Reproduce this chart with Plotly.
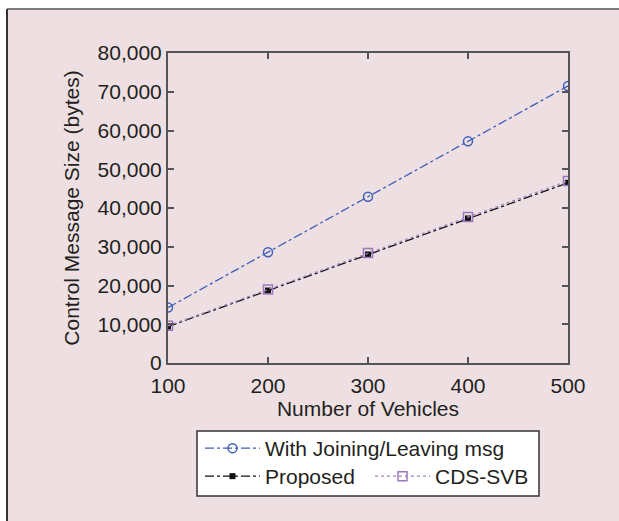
import plotly.graph_objects as go

vehicles = [100, 200, 300, 400, 500]
with_joining = [14300, 28600, 42900, 57200, 71500]
proposed = [9400, 18700, 28000, 37300, 46500]
cds_svb = [9600, 19000, 28400, 37700, 47000]

x_ticks = [100, 200, 300, 400, 500]
y_ticks = [0, 10000, 20000, 30000, 40000, 50000, 60000, 70000, 80000]

W, H = 619, 521
L, R, T, B = 168, 568, 53, 363
pw, ph = R - L, B - T

def px(x):
    return (x - L) / pw

def py(y):
    return (B - y) / ph

FONT = "Liberation Sans, Arial, sans-serif"
FS = 21
TXT = "#231f20"
AX = "#555555"

fig = go.Figure()
fig.add_trace(go.Scatter(
    x=vehicles, y=with_joining, name="With Joining/Leaving msg",
    mode="lines+markers",
    line=dict(color="#3f5fb8", width=1.3, dash="dashdot"),
    marker=dict(symbol="circle-open", size=9, color="#3f5fb8", line=dict(width=1.5)),
    legend="legend", showlegend=True,
))
fig.add_trace(go.Scatter(
    x=vehicles, y=proposed, name="Proposed",
    mode="lines+markers",
    line=dict(color="#111111", width=1.3, dash="dashdot"),
    marker=dict(symbol="square", size=6, color="#111111"),
    legend="legend2", showlegend=True,
))
fig.add_trace(go.Scatter(
    x=vehicles, y=cds_svb, name="CDS-SVB",
    mode="lines+markers",
    line=dict(color="#a384c4", width=1.3, dash="dot"),
    marker=dict(symbol="square-open", size=9, color="#9a78bd", line=dict(width=1.5)),
    legend="legend2", showlegend=True,
))

shapes = [
    dict(type="rect", xref="paper", yref="paper", layer="below",
         x0=px(7), x1=px(W + 20), y0=py(H + 20), y1=py(9),
         fillcolor="#eedfe3", line=dict(width=0)),
    dict(type="line", xref="paper", yref="paper", layer="below",
         x0=px(7), x1=px(7), y0=py(H + 20), y1=py(9),
         line=dict(color="#333333", width=2)),
    dict(type="line", xref="paper", yref="paper", layer="below",
         x0=px(7), x1=px(W + 20), y0=py(9), y1=py(9),
         line=dict(color="#555555", width=1.5)),
    dict(type="rect", xref="paper", yref="paper", layer="below",
         x0=px(197), x1=px(539), y0=py(496), y1=py(431),
         fillcolor="#ffffff", line=dict(color="#333333", width=1.5)),
]

fig.update_layout(
    width=W, height=H,
    margin=dict(l=L, r=W - R, t=T, b=H - B, autoexpand=False),
    paper_bgcolor="#ffffff",
    plot_bgcolor="#faf9f5",
    font=dict(family=FONT, size=FS, color=TXT),
    shapes=shapes,
    showlegend=True,
    legend=dict(
        x=px(200), y=py(428), xanchor="left", yanchor="top",
        orientation="v", bgcolor="rgba(0,0,0,0)", borderwidth=0,
        font=dict(family=FONT, size=FS, color=TXT),
        itemwidth=55, tracegroupgap=0,
    ),
    legend2=dict(
        x=px(200), y=py(456), xanchor="left", yanchor="top",
        orientation="h", bgcolor="rgba(0,0,0,0)", borderwidth=0,
        font=dict(family=FONT, size=FS, color=TXT),
        itemwidth=55, entrywidth=100, entrywidthmode="pixels",
    ),
)

fig.update_xaxes(
    range=[100, 500], tickvals=x_ticks, ticktext=[str(v) for v in x_ticks],
    ticks="inside", ticklen=6, tickwidth=1.5, tickcolor=AX,
    showline=True, linecolor=AX, linewidth=2, mirror="ticks",
    showgrid=False, zeroline=False, ticklabelstandoff=3,
    title=dict(text="Number of Vehicles", standoff=5, font=dict(size=FS)),
)
fig.update_yaxes(
    range=[0, 80000], tickvals=y_ticks, ticktext=[f"{v:,}" for v in y_ticks],
    ticks="inside", ticklen=6, tickwidth=1.5, tickcolor=AX,
    showline=True, linecolor=AX, linewidth=2, mirror="ticks",
    showgrid=False, zeroline=False,
    title=dict(text="Control Message Size (bytes)", standoff=12, font=dict(size=FS)),
)

fig.write_html("out.html")
